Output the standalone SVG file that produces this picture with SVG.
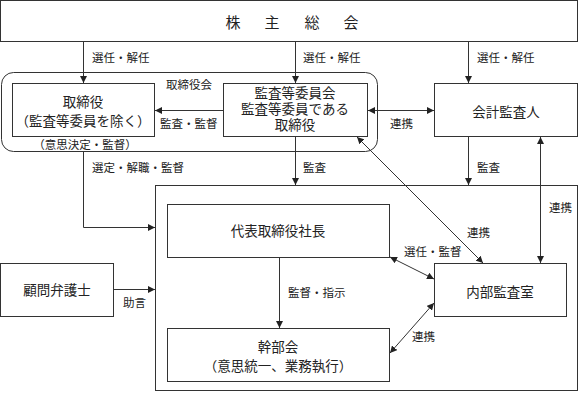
<svg xmlns="http://www.w3.org/2000/svg" width="579" height="394" viewBox="0 0 579 394">
<defs>
<style>
.box{fill:#fff;stroke:#333;stroke-width:1}
.grp{fill:none;stroke:#333;stroke-width:1}
.ln{fill:none;stroke:#333;stroke-width:1}
.t{font-family:"Liberation Serif","Noto Sans CJK JP",serif;font-size:13.5px;fill:#222;text-anchor:middle}
.l{font-family:"Liberation Serif","Noto Sans CJK JP",serif;font-size:11.5px;fill:#222}
.big{font-family:"Liberation Serif","Noto Sans CJK JP",serif;font-size:15px;fill:#222;text-anchor:middle}
</style>
<marker id="ah" viewBox="0 0 10 10" refX="10" refY="5" markerWidth="7" markerHeight="7" markerUnits="userSpaceOnUse" orient="auto-start-reverse">
<path d="M0,0 L10,5 L0,10 Z" fill="#222"/>
</marker>
</defs>
<rect width="579" height="394" fill="#fff"/>

<g id="shareholders">
<rect class="box" x="0.5" y="0.5" width="577" height="41"/>
<text class="big" x="233" y="28">株</text>
<text class="big" x="272" y="28">主</text>
<text class="big" x="312" y="28">総</text>
<text class="big" x="351" y="28">会</text>
</g>

<g id="board">
<rect class="grp" x="1.5" y="72.5" width="376" height="79" rx="12" ry="12"/>
<text class="l" x="166" y="89">取締役会</text>
<text class="l" x="85" y="149" text-anchor="middle">（意思決定・監督）</text>
</g>

<g id="directors">
<rect class="box" x="12.5" y="83.5" width="142" height="53"/>
<text class="t" x="83" y="107">取締役</text>
<text class="t" x="83" y="126">（監査等委員を除く）</text>
</g>

<g id="audit-committee">
<rect class="box" x="223.5" y="83.5" width="144" height="53"/>
<text class="t" x="295" y="98">監査等委員会</text>
<text class="t" x="295" y="114">監査等委員である</text>
<text class="t" x="295" y="130">取締役</text>
</g>

<g id="accounting-auditor">
<rect class="box" x="434.5" y="83.5" width="143" height="53"/>
<text class="t" x="506" y="117">会計監査人</text>
</g>

<g id="execution">
<rect class="box" x="155.5" y="185.5" width="422" height="205"/>
</g>

<g id="president">
<rect class="box" x="167.5" y="204.5" width="222" height="53"/>
<text class="t" x="278" y="236">代表取締役社長</text>
</g>

<g id="executives">
<rect class="box" x="167.5" y="328.5" width="222" height="53"/>
<text class="t" x="278" y="352">幹部会</text>
<text class="t" x="278" y="371">（意思統一、業務執行）</text>
</g>

<g id="internal-audit">
<rect class="box" x="434.5" y="263.5" width="132" height="53"/>
<text class="t" x="500" y="297">内部監査室</text>
</g>

<g id="lawyer">
<rect class="box" x="0.5" y="263.5" width="113" height="53"/>
<text class="t" x="57" y="295">顧問弁護士</text>
</g>

<g id="connectors">
<line class="ln" x1="83.5" y1="42" x2="83.5" y2="83" marker-end="url(#ah)"/>
<line class="ln" x1="295.5" y1="42" x2="295.5" y2="83" marker-end="url(#ah)"/>
<line class="ln" x1="468.5" y1="42" x2="468.5" y2="83" marker-end="url(#ah)"/>
<line class="ln" x1="223" y1="110.5" x2="155" y2="110.5" marker-end="url(#ah)"/>
<line class="ln" x1="368" y1="110.5" x2="434" y2="110.5" marker-start="url(#ah)" marker-end="url(#ah)"/>
<line class="ln" x1="295.5" y1="137" x2="295.5" y2="185" marker-end="url(#ah)"/>
<line class="ln" x1="468.5" y1="137" x2="468.5" y2="185" marker-end="url(#ah)"/>
<polyline class="ln" points="83.5,152 83.5,227.5 155,227.5" marker-end="url(#ah)"/>
<line class="ln" x1="114" y1="289.5" x2="155" y2="289.5" marker-end="url(#ah)"/>
<line class="ln" x1="279.5" y1="258" x2="279.5" y2="328" marker-end="url(#ah)"/>
<line class="ln" x1="357" y1="137" x2="483" y2="263" marker-start="url(#ah)" marker-end="url(#ah)"/>
<line class="ln" x1="540.5" y1="137" x2="540.5" y2="263" marker-start="url(#ah)" marker-end="url(#ah)"/>
<line class="ln" x1="390" y1="257" x2="434" y2="279" marker-start="url(#ah)" marker-end="url(#ah)"/>
<line class="ln" x1="390" y1="353" x2="434" y2="303" marker-start="url(#ah)" marker-end="url(#ah)"/>
<text class="l" x="92" y="62">選任・解任</text>
<text class="l" x="303" y="62">選任・解任</text>
<text class="l" x="477" y="62">選任・解任</text>
<text class="l" x="160" y="128">監査・監督</text>
<text class="l" x="390" y="128">連携</text>
<text class="l" x="92" y="172">選定・解職・監督</text>
<text class="l" x="303" y="172">監査</text>
<text class="l" x="477" y="172">監査</text>
<text class="l" x="549" y="212">連携</text>
<text class="l" x="467" y="237">連携</text>
<text class="l" x="404" y="256">選任・監督</text>
<text class="l" x="123" y="307">助言</text>
<text class="l" x="288" y="297">監督・指示</text>
<text class="l" x="412" y="341">連携</text>
</g>
</svg>
